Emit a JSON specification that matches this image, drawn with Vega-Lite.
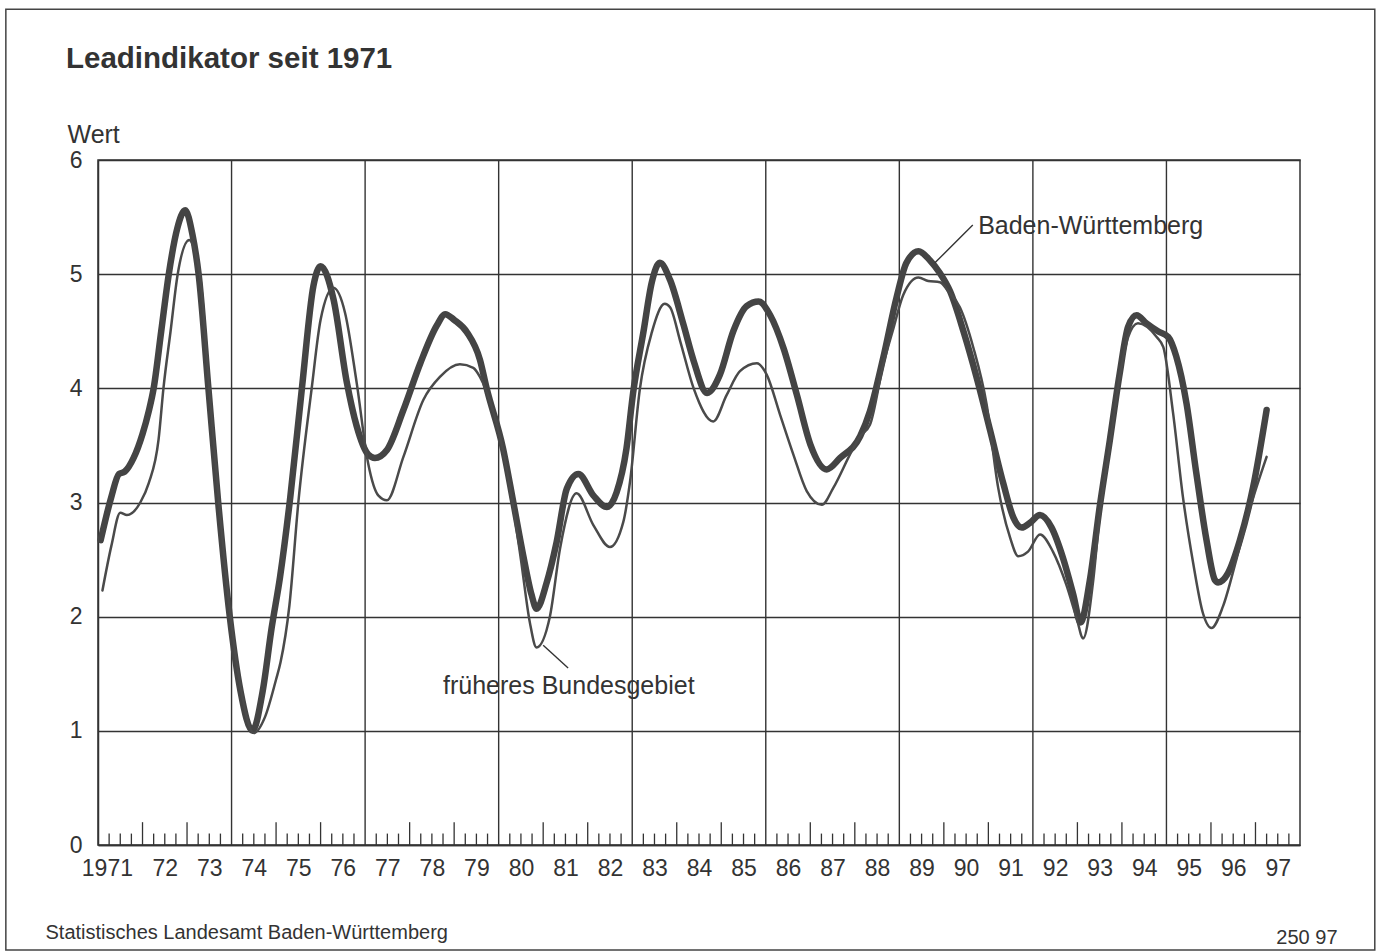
{
  "$schema": "https://vega.github.io/schema/vega-lite/v6.json",
  "width": 1202,
  "height": 685,
  "autosize": "none",
  "padding": {"left": 98, "top": 160, "right": 84, "bottom": 106},
  "background": "white",
  "config": {
    "font": "Liberation Sans",
    "view": {"stroke": "#333333", "strokeWidth": 1.5},
    "axis": {"labelColor": "#333333", "titleColor": "#333333", "labelFont": "Liberation Sans", "titleFont": "Liberation Sans"}
  },
  "title": {"text": "Leadindikator seit 1971", "anchor": "start", "frame": "group", "fontSize": 29.5, "fontWeight": "bold", "color": "#333333", "font": "Liberation Sans", "dx": -32, "baseline": "alphabetic", "offset": 0, "dy": 89},
  "datasets": {
    "bw": [
      {"t":1971.06,"v":2.67},{"t":1971.3,"v":3.05},{"t":1971.47,"v":3.25},{"t":1971.6,"v":3.27},{"t":1971.8,"v":3.39},{"t":1972.0,"v":3.6},{"t":1972.14,"v":3.8},{"t":1972.25,"v":4.0},{"t":1972.42,"v":4.5},{"t":1972.59,"v":5.0},{"t":1972.78,"v":5.4},{"t":1972.96,"v":5.56},{"t":1973.12,"v":5.35},{"t":1973.26,"v":5.0},{"t":1973.48,"v":4.0},{"t":1973.7,"v":3.0},{"t":1973.96,"v":2.0},{"t":1974.2,"v":1.35},{"t":1974.47,"v":1.0},{"t":1974.7,"v":1.35},{"t":1974.9,"v":1.9},{"t":1975.09,"v":2.35},{"t":1975.32,"v":3.05},{"t":1975.58,"v":4.0},{"t":1975.84,"v":4.9},{"t":1976.0,"v":5.07},{"t":1976.29,"v":4.78},{"t":1976.59,"v":4.05},{"t":1976.81,"v":3.67},{"t":1977.07,"v":3.42},{"t":1977.22,"v":3.39},{"t":1977.49,"v":3.46},{"t":1977.86,"v":3.81},{"t":1978.24,"v":4.22},{"t":1978.61,"v":4.55},{"t":1978.8,"v":4.65},{"t":1979.0,"v":4.6},{"t":1979.29,"v":4.49},{"t":1979.58,"v":4.25},{"t":1979.73,"v":4.0},{"t":1980.1,"v":3.47},{"t":1980.33,"v":3.0},{"t":1980.55,"v":2.54},{"t":1980.74,"v":2.19},{"t":1980.85,"v":2.07},{"t":1981.08,"v":2.3},{"t":1981.3,"v":2.65},{"t":1981.53,"v":3.12},{"t":1981.79,"v":3.25},{"t":1982.13,"v":3.06},{"t":1982.43,"v":2.96},{"t":1982.65,"v":3.09},{"t":1982.87,"v":3.47},{"t":1983.02,"v":3.96},{"t":1983.25,"v":4.49},{"t":1983.44,"v":4.93},{"t":1983.62,"v":5.1},{"t":1983.85,"v":4.95},{"t":1984.15,"v":4.56},{"t":1984.38,"v":4.24},{"t":1984.68,"v":3.96},{"t":1984.97,"v":4.12},{"t":1985.27,"v":4.5},{"t":1985.57,"v":4.72},{"t":1985.84,"v":4.76},{"t":1986.1,"v":4.64},{"t":1986.4,"v":4.35},{"t":1986.7,"v":3.94},{"t":1987.0,"v":3.51},{"t":1987.37,"v":3.29},{"t":1987.67,"v":3.39},{"t":1988.12,"v":3.58},{"t":1988.34,"v":3.8},{"t":1988.64,"v":4.27},{"t":1988.94,"v":4.8},{"t":1989.16,"v":5.1},{"t":1989.43,"v":5.2},{"t":1989.69,"v":5.12},{"t":1989.91,"v":5.01},{"t":1990.14,"v":4.85},{"t":1990.44,"v":4.5},{"t":1990.74,"v":4.09},{"t":1991.04,"v":3.63},{"t":1991.34,"v":3.16},{"t":1991.56,"v":2.87},{"t":1991.75,"v":2.78},{"t":1991.93,"v":2.82},{"t":1992.16,"v":2.89},{"t":1992.42,"v":2.78},{"t":1992.68,"v":2.51},{"t":1992.91,"v":2.19},{"t":1993.07,"v":1.95},{"t":1993.28,"v":2.32},{"t":1993.5,"v":2.96},{"t":1993.73,"v":3.55},{"t":1993.95,"v":4.13},{"t":1994.14,"v":4.54},{"t":1994.33,"v":4.64},{"t":1994.55,"v":4.57},{"t":1994.81,"v":4.5},{"t":1995.04,"v":4.45},{"t":1995.22,"v":4.28},{"t":1995.45,"v":3.87},{"t":1995.67,"v":3.26},{"t":1995.9,"v":2.67},{"t":1996.09,"v":2.32},{"t":1996.16,"v":2.3},{"t":1996.38,"v":2.38},{"t":1996.65,"v":2.67},{"t":1996.95,"v":3.14},{"t":1997.25,"v":3.81}
    ],
    "fb": [
      {"t":1971.1,"v":2.23},{"t":1971.3,"v":2.62},{"t":1971.5,"v":2.91},{"t":1971.65,"v":2.89},{"t":1971.95,"v":3.0},{"t":1972.14,"v":3.17},{"t":1972.36,"v":3.55},{"t":1972.47,"v":4.0},{"t":1972.63,"v":4.5},{"t":1972.79,"v":5.0},{"t":1973.05,"v":5.3},{"t":1973.18,"v":5.2},{"t":1973.29,"v":5.0},{"t":1973.5,"v":4.0},{"t":1973.72,"v":3.0},{"t":1973.98,"v":2.0},{"t":1974.22,"v":1.35},{"t":1974.5,"v":0.98},{"t":1974.75,"v":1.12},{"t":1975.0,"v":1.45},{"t":1975.1,"v":1.6},{"t":1975.3,"v":2.1},{"t":1975.5,"v":3.0},{"t":1975.8,"v":4.0},{"t":1976.0,"v":4.6},{"t":1976.29,"v":4.88},{"t":1976.55,"v":4.66},{"t":1976.81,"v":4.05},{"t":1977.07,"v":3.34},{"t":1977.3,"v":3.06},{"t":1977.49,"v":3.02},{"t":1977.86,"v":3.4},{"t":1978.31,"v":3.9},{"t":1978.68,"v":4.1},{"t":1979.13,"v":4.21},{"t":1979.43,"v":4.18},{"t":1979.58,"v":4.1},{"t":1979.73,"v":3.97},{"t":1980.1,"v":3.45},{"t":1980.33,"v":2.95},{"t":1980.5,"v":2.5},{"t":1980.7,"v":1.95},{"t":1980.85,"v":1.73},{"t":1981.15,"v":2.0},{"t":1981.38,"v":2.6},{"t":1981.75,"v":3.08},{"t":1982.13,"v":2.8},{"t":1982.5,"v":2.61},{"t":1982.8,"v":2.83},{"t":1982.95,"v":3.18},{"t":1983.17,"v":3.99},{"t":1983.44,"v":4.49},{"t":1983.73,"v":4.74},{"t":1983.85,"v":4.71},{"t":1984.08,"v":4.41},{"t":1984.38,"v":4.0},{"t":1984.82,"v":3.71},{"t":1985.12,"v":3.94},{"t":1985.42,"v":4.15},{"t":1985.8,"v":4.22},{"t":1986.02,"v":4.12},{"t":1986.32,"v":3.77},{"t":1986.62,"v":3.42},{"t":1986.92,"v":3.1},{"t":1987.26,"v":2.98},{"t":1987.52,"v":3.13},{"t":1987.93,"v":3.45},{"t":1988.12,"v":3.58},{"t":1988.34,"v":3.68},{"t":1988.64,"v":4.21},{"t":1988.87,"v":4.53},{"t":1989.09,"v":4.82},{"t":1989.43,"v":4.97},{"t":1989.65,"v":4.94},{"t":1989.91,"v":4.93},{"t":1990.1,"v":4.85},{"t":1990.36,"v":4.71},{"t":1990.66,"v":4.36},{"t":1990.96,"v":3.86},{"t":1991.22,"v":3.13},{"t":1991.49,"v":2.69},{"t":1991.67,"v":2.53},{"t":1991.89,"v":2.57},{"t":1992.16,"v":2.72},{"t":1992.45,"v":2.57},{"t":1992.75,"v":2.28},{"t":1992.98,"v":1.99},{"t":1993.13,"v":1.81},{"t":1993.35,"v":2.3},{"t":1993.5,"v":2.88},{"t":1993.73,"v":3.5},{"t":1993.95,"v":4.1},{"t":1994.14,"v":4.45},{"t":1994.36,"v":4.57},{"t":1994.78,"v":4.45},{"t":1994.93,"v":4.36},{"t":1995.15,"v":3.78},{"t":1995.37,"v":3.05},{"t":1995.6,"v":2.47},{"t":1995.82,"v":2.03},{"t":1996.01,"v":1.9},{"t":1996.27,"v":2.09},{"t":1996.57,"v":2.5},{"t":1996.87,"v":2.94},{"t":1997.25,"v":3.4}
    ],
    "qticks": [
      {"t":1971.25},{"t":1971.5},{"t":1971.75},{"t":1972.25},{"t":1972.5},{"t":1972.75},{"t":1973.25},{"t":1973.5},{"t":1973.75},{"t":1974.25},{"t":1974.5},{"t":1974.75},{"t":1975.25},{"t":1975.5},{"t":1975.75},{"t":1976.25},{"t":1976.5},{"t":1976.75},{"t":1977.25},{"t":1977.5},{"t":1977.75},{"t":1978.25},{"t":1978.5},{"t":1978.75},{"t":1979.25},{"t":1979.5},{"t":1979.75},{"t":1980.25},{"t":1980.5},{"t":1980.75},{"t":1981.25},{"t":1981.5},{"t":1981.75},{"t":1982.25},{"t":1982.5},{"t":1982.75},{"t":1983.25},{"t":1983.5},{"t":1983.75},{"t":1984.25},{"t":1984.5},{"t":1984.75},{"t":1985.25},{"t":1985.5},{"t":1985.75},{"t":1986.25},{"t":1986.5},{"t":1986.75},{"t":1987.25},{"t":1987.5},{"t":1987.75},{"t":1988.25},{"t":1988.5},{"t":1988.75},{"t":1989.25},{"t":1989.5},{"t":1989.75},{"t":1990.25},{"t":1990.5},{"t":1990.75},{"t":1991.25},{"t":1991.5},{"t":1991.75},{"t":1992.25},{"t":1992.5},{"t":1992.75},{"t":1993.25},{"t":1993.5},{"t":1993.75},{"t":1994.25},{"t":1994.5},{"t":1994.75},{"t":1995.25},{"t":1995.5},{"t":1995.75},{"t":1996.25},{"t":1996.5},{"t":1996.75},{"t":1997.25},{"t":1997.5},{"t":1997.75}
    ],
    "yticks": [
      {"t":1972},{"t":1973},{"t":1975},{"t":1976},{"t":1978},{"t":1979},{"t":1981},{"t":1982},{"t":1984},{"t":1985},{"t":1987},{"t":1988},{"t":1990},{"t":1991},{"t":1993},{"t":1994},{"t":1996},{"t":1997}
    ],
    "vgrid": [
      {"t":1974},{"t":1977},{"t":1980},{"t":1983},{"t":1986},{"t":1989},{"t":1992},{"t":1995}
    ],
    "leaders": [
      {"t":1989.8,"v":5.1,"t2":1990.65,"v2":5.43},
      {"t":1981.0,"v":1.75,"t2":1981.56,"v2":1.55}
    ],
    "labels": [
      {"t":1990.77,"v":5.42,"label":"Baden-Württemberg"},
      {"t":1978.75,"v":1.39,"label":"früheres Bundesgebiet"}
    ]
  },
  "layer": [
    {
      "layer": [
        {
          "data": {"name": "vgrid"},
          "mark": {"type": "rule", "stroke": "#333333", "strokeWidth": 1.4},
          "encoding": {
            "x": {"field": "t", "type": "quantitative", "title": "Statistisches Landesamt Baden-Württemberg",
                  "scale": {"domain": [1971, 1998], "nice": false, "zero": false},
                  "axis": {"values": [1971.2,1972.5,1973.5,1974.5,1975.5,1976.5,1977.5,1978.5,1979.5,1980.5,1981.5,1982.5,1983.5,1984.5,1985.5,1986.5,1987.5,1988.5,1989.5,1990.5,1991.5,1992.5,1993.5,1994.5,1995.5,1996.5,1997.5],
                           "labelExpr": "datum.value < 1972 ? '1971' : toString(floor(datum.value) - 1900)",
                           "ticks": false, "tickSize": 0, "grid": false, "domain": true, "domainColor": "#333333", "domainWidth": 1.5,
                           "labelFontSize": 23, "labelPadding": 12, "labelFlush": false, "labelOverlap": false,
                           "titleFontSize": 20, "titleFontWeight": "normal", "titleAlign": "left", "titleBaseline": "alphabetic",
                           "titleX": -53, "titleY": 93, "titleAnchor": "start"}},
            "y": {"datum": 0, "type": "quantitative", "title": "Wert"},
            "y2": {"datum": 6}
          }
        },
        {
          "data": {"name": "qticks"},
          "mark": {"type": "rule", "stroke": "#333333", "strokeWidth": 1.3},
          "encoding": {
            "x": {"field": "t", "type": "quantitative"},
            "y": {"datum": 0, "type": "quantitative", "title": "Wert"},
            "y2": {"datum": 0.1}
          }
        },
        {
          "data": {"name": "yticks"},
          "mark": {"type": "rule", "stroke": "#333333", "strokeWidth": 1.3},
          "encoding": {
            "x": {"field": "t", "type": "quantitative"},
            "y": {"datum": 0, "type": "quantitative", "title": "Wert"},
            "y2": {"datum": 0.2}
          }
        },
        {
          "data": {"name": "bw"},
          "mark": {"type": "line", "stroke": "#444444", "strokeWidth": 6.5, "interpolate": "monotone", "strokeCap": "round", "strokeJoin": "round"},
          "encoding": {
            "x": {"field": "t", "type": "quantitative"},
            "y": {"field": "v", "type": "quantitative", "title": "Wert",
                  "scale": {"domain": [0, 6], "nice": false, "zero": true},
                  "axis": {"title": "Wert", "values": [0,1,2,3,4,5,6], "format": "d", "ticks": false, "tickSize": 0, "grid": true, "gridColor": "#333333", "gridWidth": 1.4,
                           "domain": true, "domainColor": "#333333", "domainWidth": 1.5,
                           "labelFontSize": 23, "labelPadding": 16,
                           "titleAngle": 0, "titleFontSize": 25, "titleFontWeight": "normal", "titleAlign": "left", "titleBaseline": "alphabetic",
                           "titleX": -31, "titleY": -18}}
          }
        },
        {
          "data": {"name": "leaders"},
          "mark": {"type": "rule", "stroke": "#333333", "strokeWidth": 1.4},
          "encoding": {
            "x": {"field": "t", "type": "quantitative"},
            "y": {"field": "v", "type": "quantitative", "title": "Wert"},
            "x2": {"field": "t2"},
            "y2": {"field": "v2", "title": "Wert"}
          }
        },
        {
          "data": {"name": "labels"},
          "mark": {"type": "text", "align": "left", "baseline": "middle", "fontSize": 25, "color": "#333333", "font": "Liberation Sans"},
          "encoding": {
            "x": {"field": "t", "type": "quantitative"},
            "y": {"field": "v", "type": "quantitative", "title": "Wert"},
            "text": {"field": "label"}
          }
        },
        {
          "data": {"values": [{}]},
          "mark": {"type": "rect", "fillOpacity": 0, "stroke": "#444444", "strokeWidth": 1.5, "clip": false},
          "encoding": {
            "x": {"datum": 1968.93, "type": "quantitative"},
            "x2": {"datum": 1999.68},
            "y": {"datum": 7.32, "type": "quantitative", "title": "Wert"},
            "y2": {"datum": -0.92}
          }
        }
      ]
    },
    {
      "data": {"name": "fb"},
      "mark": {"type": "line", "stroke": "#4a4a4a", "strokeWidth": 2.5, "interpolate": "monotone", "strokeCap": "round", "strokeJoin": "round"},
      "encoding": {
        "x": {"field": "t", "type": "quantitative"},
        "y": {"field": "v", "type": "quantitative", "title": "250 97",
              "scale": {"domain": [0, 6], "nice": false, "zero": true},
              "axis": {"title": "250 97", "orient": "right", "labels": false, "ticks": false, "domain": false, "grid": false,
                       "titleAngle": 0, "titleFontSize": 20, "titleFontWeight": "normal", "titleAlign": "right", "titleBaseline": "alphabetic",
                       "titleX": 37, "titleY": 783}}
      }
    }
  ],
  "resolve": {"scale": {"y": "independent"}}
}
